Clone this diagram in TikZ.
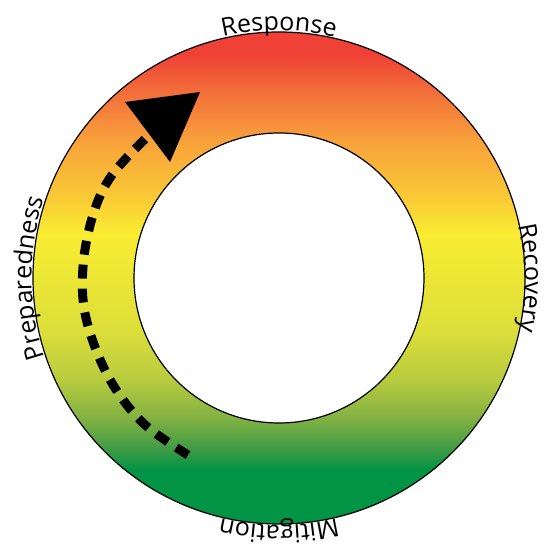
\documentclass[tikz,border=0pt]{standalone}
\usepackage{fontspec}
\setmainfont{Open Sans}
\usetikzlibrary{decorations.text}
\definecolor{cRed}{HTML}{EF4136}
\definecolor{cRedOr}{HTML}{F26C3A}
\definecolor{cOrange}{HTML}{F8A13B}
\definecolor{cYelOr}{HTML}{F9CC35}
\definecolor{cYellow}{HTML}{F9ED32}
\definecolor{cYelGr}{HTML}{DCDE3A}
\definecolor{cLime}{HTML}{B7CB3F}
\definecolor{cMidGr}{HTML}{7FB043}
\definecolor{cDkGr}{HTML}{3C9A45}
\definecolor{cGreen}{HTML}{009444}
\pgfdeclareverticalshading{ringshade}{100bp}{%
  color(0bp)=(cGreen); color(30.5bp)=(cGreen); color(32.5bp)=(cDkGr);
  color(35.6bp)=(cMidGr); color(39.6bp)=(cLime); color(44.7bp)=(cYelGr);
  color(54.4bp)=(cYellow); color(57.9bp)=(cYelOr); color(64bp)=(cOrange);
  color(69.1bp)=(cRedOr); color(72.7bp)=(cRed); color(100bp)=(cRed)}
\newcommand\lblfont{\fontsize{25}{25}\selectfont}
\tikzset{
  ringedge/.style={draw=black, line width=1.2pt},
  cyclelabel/.style={decorate, decoration={text along path, text align=center, text={|\lblfont|#1}}},
  cyclearrow/.style={line width=9pt, dash pattern=on 14pt off 10pt, line cap=butt},
  arrowhead/.style={fill=black}
}
\begin{document}
\begin{tikzpicture}
\useasboundingbox (0pt,0pt) rectangle (543pt,548pt);
\coordinate (C) at (279pt,270pt);
% ring
\shade[shading=ringshade, even odd rule] (C) circle[radius=246pt] (C) circle[radius=145pt];
\path[ringedge] (C) circle[radius=246pt];
\path[ringedge] (C) circle[radius=145pt];
% labels along the ring (clockwise)
\path[cyclelabel={Response}] (C) ++(130:247.5pt) arc[start angle=130, end angle=50, radius=247.5pt];
\path[cyclelabel={Recovery}] (C) ++(40:245.5pt) arc[start angle=40, end angle=-40, radius=245.5pt];
\path[cyclelabel={Mitigation}] (C) ++(310:247pt) arc[start angle=310, end angle=230, radius=247pt];
\path[cyclelabel={Preparedness}] (C) ++(220:247.5pt) arc[start angle=220, end angle=140, radius=247.5pt];
% dashed arrow
\coordinate (a0) at (188pt,93pt);
\coordinate (a1) at (142pt,126pt);
\coordinate (a2) at (108pt,172pt);
\coordinate (a3) at (86pt,230pt);
\coordinate (a4) at (83pt,281pt);
\coordinate (a5) at (93pt,333pt);
\coordinate (a6) at (112pt,373pt);
\coordinate (a7) at (150pt,414pt);
\draw[cyclearrow] plot[smooth, tension=0.6] coordinates {(a0) (a1) (a2) (a3) (a4) (a5) (a6) (a7)};
\coordinate (tip) at (200pt,456pt);
\coordinate (hl) at (125pt,446pt);
\coordinate (hr) at (170pt,386pt);
\fill[arrowhead] (tip) -- (hl) -- (hr) -- cycle;
\end{tikzpicture}
\end{document}
